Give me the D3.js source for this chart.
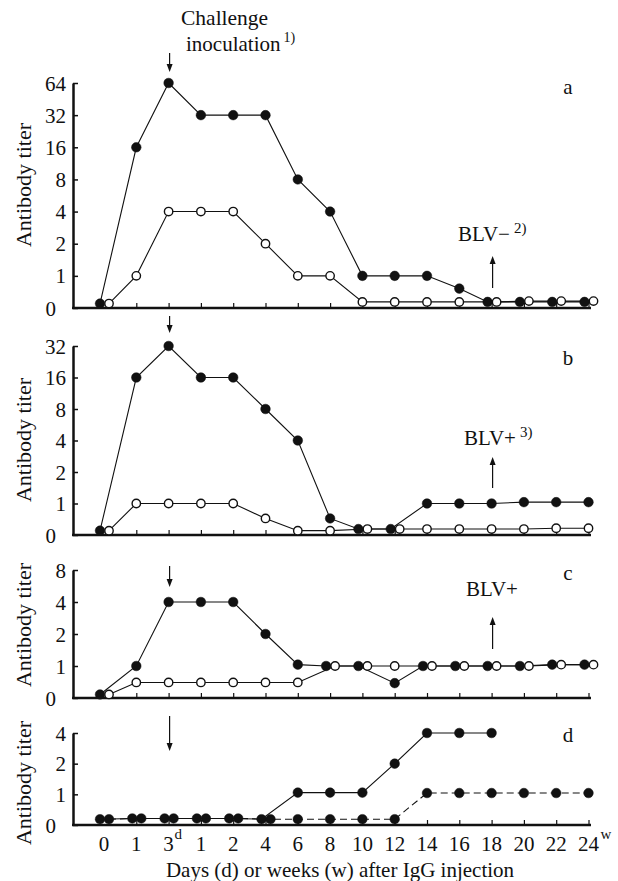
<!DOCTYPE html>
<html>
<head>
<meta charset="utf-8">
<script src="https://cdn.jsdelivr.net/npm/d3@7"></script>
<style>
  body { margin: 0; background: #fff; }
  svg { display: block; }
  text { font-family: "Liberation Serif", "DejaVu Serif", serif; fill: #111; }
</style>
</head>
<body>
<script>
// x categories: days (d) then weeks (w) after IgG injection
const categories = ["0", "1", "3", "1", "2", "4", "6", "8", "10", "12", "14", "16", "18", "20", "22", "24"];
const catUnits = ["", "", "d", "", "", "", "", "", "", "", "", "", "", "", "", "w"];

// antibody titers (values < 1 sit just above the "0" line)
const aFilled = [0.55, 16, 64, 32, 32, 32, 8, 4, 1, 1, 1, 0.76, 0.57, 0.57, 0.57, 0.57];
const aOpen   = [0.55, 1, 4, 4, 4, 2, 1, 1, 0.57, 0.57, 0.57, 0.57, 0.57, 0.58, 0.58, 0.58];
const bFilled = [0.55, 16, 32, 16, 16, 8, 4, 0.72, 0.57, 0.57, 1, 1, 1, 1.03, 1.03, 1.03];
const bOpen   = [0.55, 1, 1, 1, 1, 0.72, 0.55, 0.55, 0.57, 0.57, 0.57, 0.57, 0.57, 0.57, 0.58, 0.58];
const cFilled = [0.54, 1, 4, 4, 4, 2, 1.03, 1, 1, 0.69, 1, 1, 1, 1, 1.03, 1.03];
const cOpen   = [0.54, 0.7, 0.7, 0.7, 0.7, 0.7, 0.7, 1, 1, 1, 1, 1, 1, 1, 1.03, 1.03];
const dSolid  = [0.57, 0.58, 0.58, 0.58, 0.58, 0.57, 1.04, 1.04, 1.04, 2, 4, 4, 4, null, null, null];
const dDashed = [0.57, 0.58, 0.58, 0.58, 0.58, 0.57, 0.57, 0.57, 0.57, 0.57, 1.03, 1.03, 1.03, 1.03, 1.03, 1.03];

const width = 618, height = 881;
const axisX0 = 73, axisX1 = 591;

const svg = d3.select('body').append('svg')
  .attr('width', width)
  .attr('height', height)
  .attr('viewBox', `0 0 ${width} ${height}`);
svg.append('rect').attr('width', width).attr('height', height).attr('fill', '#fff');

const x = d3.scalePoint()
  .domain(d3.range(categories.length))
  .range([104, 588.5]);

const panels = [
  { name: 'a', top: 64, y0: 308, y1: 83, labelY: 185, letterY: 94,
    series: [{ v: aFilled, open: false }, { v: aOpen, open: true }],
    arrow: [53, 72], blv: { text: 'BLV\u2212', sup: '2)', x: 458, y: 241, a0: 288, a1: 256 } },
  { name: 'b', top: 32, y0: 535, y1: 346, labelY: 440, letterY: 365,
    series: [{ v: bFilled, open: false }, { v: bOpen, open: true }],
    arrow: [316, 333], blv: { text: 'BLV+', sup: '3)', x: 464, y: 445, a0: 488, a1: 457 } },
  { name: 'c', top: 8, y0: 698, y1: 570, labelY: 625, letterY: 580,
    series: [{ v: cFilled, open: false }, { v: cOpen, open: true }],
    arrow: [566, 587], blv: { text: 'BLV+', sup: '', x: 466, y: 596, a0: 649, a1: 617 } },
  { name: 'd', top: 4, y0: 825, y1: 733, labelY: 783, letterY: 742,
    series: [{ v: dSolid, open: false }, { v: dDashed, open: false, dashed: true }],
    arrow: [716, 751], blv: null },
];

function arrow(g, xp, yFrom, yTo) {
  const dir = yTo > yFrom ? 1 : -1;
  g.append('line')
    .attr('x1', xp).attr('x2', xp)
    .attr('y1', yFrom).attr('y2', yTo - dir * 5)
    .attr('stroke', '#111').attr('stroke-width', 1.2);
  g.append('path')
    .attr('d', `M${xp - 3},${yTo - dir * 8} L${xp},${yTo} L${xp + 3},${yTo - dir * 8} Z`)
    .attr('fill', '#111');
}

panels.forEach((p, pi) => {
  const g = svg.append('g');
  const y = d3.scaleLog().base(2).domain([0.5, p.top]).range([p.y0, p.y1]);
  const ticks = d3.range(-1, Math.log2(p.top) + 1).map((e) => Math.pow(2, e));

  // y axis: ticks point inward
  const yAxis = g.append('g')
    .attr('transform', `translate(${axisX0},0)`)
    .call(d3.axisLeft(y)
      .tickValues(ticks)
      .tickSizeInner(-5)
      .tickSizeOuter(0)
      .tickPadding(7)
      .tickFormat((d) => (d < 1 ? '0' : d)));
  yAxis.select('.domain').attr('stroke', '#111').attr('stroke-width', 2.5);
  yAxis.selectAll('.tick line').attr('stroke', '#111').attr('stroke-width', 1.5);
  yAxis.selectAll('.tick text')
    .attr('font-size', 21)
    .attr('font-family', '"Liberation Serif", serif')
    .attr('fill', '#111')
    .attr('dy', '0.34em')
    .attr('x', (d) => (d < 1 ? -17 : -7));

  // x axis line and small upward ticks
  g.append('line')
    .attr('x1', axisX0 - 1).attr('x2', axisX1)
    .attr('y1', p.y0).attr('y2', p.y0)
    .attr('stroke', '#111').attr('stroke-width', 2.5);
  const xAxis = g.append('g')
    .attr('transform', `translate(0,${p.y0})`)
    .call(d3.axisBottom(x)
      .tickValues(d3.range(1, categories.length))
      .tickSizeInner(-5)
      .tickSizeOuter(0)
      .tickFormat(''));
  xAxis.select('.domain').remove();
  xAxis.selectAll('.tick line').attr('stroke', '#111').attr('stroke-width', 1.2);

  // y label
  g.append('text')
    .attr('transform', `translate(31,${p.labelY}) rotate(-90)`)
    .attr('text-anchor', 'middle')
    .attr('font-size', 22)
    .text('Antibody titer');

  // panel letter
  g.append('text')
    .attr('x', 568).attr('y', p.letterY)
    .attr('text-anchor', 'middle')
    .attr('font-size', 21)
    .text(p.name);

  // challenge inoculation arrow at day 3
  arrow(g, x(2) + 1, p.arrow[0], p.arrow[1]);

  // BLV note with upward arrow at week 18
  if (p.blv) {
    const t = g.append('text')
      .attr('x', p.blv.x).attr('y', p.blv.y)
      .attr('font-size', 21)
      .text(p.blv.text);
    if (p.blv.sup) {
      t.append('tspan')
        .attr('dx', 4).attr('dy', -8)
        .attr('font-size', 15)
        .text(p.blv.sup);
    }
    arrow(g, x(12) + 1, p.blv.a0, p.blv.a1);
  }

  // horizontal offsets where the two series overlap
  const [s1, s2] = p.series;
  const offsets = categories.map((_, i) => {
    const a = s1.v[i], b = s2.v[i];
    if (a == null || b == null) return [0, 0];
    return Math.abs(y(a) - y(b)) < 8 ? [-4, 5] : [0, 0];
  });

  const pts = p.series.map((s, si) => s.v.map((v, i) => ({ v, i, xp: x(i) + offsets[i][si] })));

  const line = d3.line()
    .defined((d) => d.v != null)
    .x((d) => d.xp)
    .y((d) => y(d.v));

  p.series.forEach((s, si) => {
    g.append('path')
      .datum(pts[si])
      .attr('d', line)
      .attr('fill', 'none')
      .attr('stroke', '#111')
      .attr('stroke-width', 1.1)
      .attr('stroke-dasharray', s.dashed ? '7,4' : null);
  });

  p.series.forEach((s, si) => {
    g.selectAll(null)
      .data(pts[si].filter((d) => d.v != null))
      .enter()
      .append('circle')
      .attr('cx', (d) => d.xp)
      .attr('cy', (d) => y(d.v))
      .attr('r', s.open ? 4.2 : 4.8)
      .attr('fill', s.open ? '#fff' : '#111')
      .attr('stroke', '#111')
      .attr('stroke-width', s.open ? 1.4 : 0.5);
  });

  // category labels only under the bottom panel
  if (pi === panels.length - 1) {
    const lab = g.append('g');
    lab.selectAll('text')
      .data(categories)
      .enter()
      .append('text')
      .attr('x', (d, i) => x(i))
      .attr('y', p.y0 + 26)
      .attr('text-anchor', 'middle')
      .attr('font-size', 21)
      .text((d) => d);
    lab.selectAll(null)
      .data(catUnits.map((u, i) => ({ u, i })).filter((d) => d.u))
      .enter()
      .append('text')
      .attr('x', (d) => x(d.i) + (categories[d.i].length > 1 ? 12 : 6))
      .attr('y', p.y0 + 14)
      .attr('font-size', 15)
      .text((d) => d.u);
  }
});

// challenge note above panel a
svg.append('text')
  .attr('x', 181).attr('y', 25)
  .attr('font-family', '"Liberation Sans", sans-serif')
  .attr('font-size', 21.5)
  .text('Challenge');
const inoc = svg.append('text')
  .attr('x', 186).attr('y', 51)
  .attr('font-family', '"Liberation Sans", sans-serif')
  .attr('font-size', 21)
  .text('inoculation');
inoc.append('tspan')
  .attr('dx', 3).attr('dy', -9)
  .attr('font-size', 14)
  .attr('font-family', '"Liberation Serif", serif')
  .text('1)');

// x title
svg.append('text')
  .attr('x', 340).attr('y', 877)
  .attr('text-anchor', 'middle')
  .attr('font-size', 21)
  .text('Days (d) or weeks (w) after IgG injection');
</script>
</body>
</html>
